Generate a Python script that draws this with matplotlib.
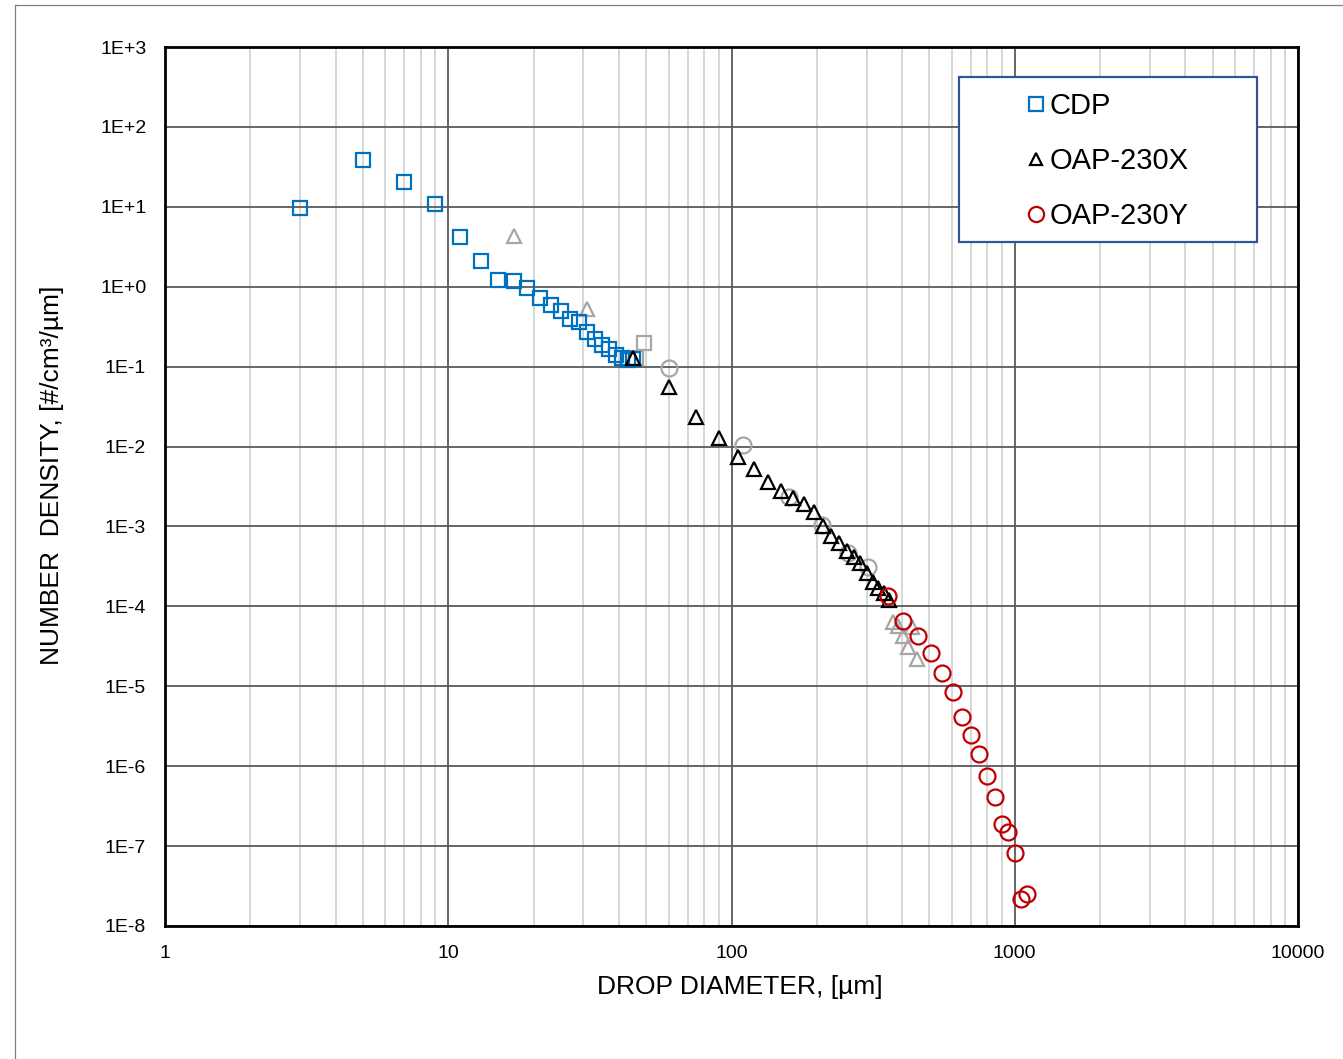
import numpy as np
import matplotlib
matplotlib.use("Agg")
import matplotlib.pyplot as plt
from matplotlib.patches import Rectangle
from matplotlib.lines import Line2D

plt.rcParams['font.family'] = ['Liberation Sans', 'DejaVu Sans']

# CDP drop size distribution (diameter in um, number density in #/cm3/um)
cdp_diam = [3, 5, 7, 9, 11, 13, 15, 17, 19, 21, 23, 25, 27, 29, 31, 33, 35, 37, 39, 41, 43, 45]
cdp_dens = [9.7, 38.5, 20.4, 10.8, 4.2, 2.1, 1.21, 1.19, 0.96, 0.72, 0.59, 0.50, 0.39, 0.36,
            0.27, 0.22, 0.186, 0.166, 0.14, 0.128, 0.121, 0.124]

# OAP-230X
oapx_diam = [45, 60, 75, 90, 105, 120, 135, 150, 165, 180, 195, 210, 225, 240, 255, 270,
             285, 300, 315, 330, 345, 360]
oapx_dens = [0.13, 0.055, 0.0236, 0.0127, 0.0075, 0.0052, 0.0036, 0.0028, 0.0023, 0.0019,
             0.0015, 0.00100, 0.00075, 0.00062, 0.00050, 0.00042, 0.00035, 0.00026,
             0.00020, 0.00017, 0.000145, 0.00012]

# OAP-230Y
oapy_diam = [358, 404, 454, 505, 555, 604, 651, 701, 750, 800, 851, 899, 949, 1002, 1050, 1102]
oapy_dens = [1.35e-4, 6.6e-5, 4.2e-5, 2.6e-5, 1.45e-5, 8.5e-6, 4.1e-6, 2.45e-6, 1.41e-6,
             7.5e-7, 4.1e-7, 1.9e-7, 1.5e-7, 8.1e-8, 2.2e-8, 2.5e-8]

# grey reference points (no legend entry)
grey_sq_diam = [46, 49]
grey_sq_dens = [0.13, 0.2]
grey_tri_diam = [17, 31, 373, 388, 404, 421, 433, 451]
grey_tri_dens = [4.3, 0.52, 6.4e-5, 5.6e-5, 4.2e-5, 3.1e-5, 5.5e-5, 2.2e-5]
grey_circ_diam = [60, 110, 159, 208, 258, 304]
grey_circ_dens = [0.097, 0.0104, 0.00236, 0.00104, 0.00047, 0.00031]

y_ticks = [1e3, 1e2, 1e1, 1e0, 1e-1, 1e-2, 1e-3, 1e-4, 1e-5, 1e-6, 1e-7, 1e-8]
y_tick_labels = ['1E+3', '1E+2', '1E+1', '1E+0', '1E-1', '1E-2', '1E-3', '1E-4',
                 '1E-5', '1E-6', '1E-7', '1E-8']
x_ticks = [1, 10, 100, 1000, 10000]
x_tick_labels = ['1', '10', '100', '1000', '10000']

BLUE = '#0070C0'
RED = '#C00000'
GREY = '#A6A6A6'

fig = plt.figure(figsize=(13.43, 10.59), dpi=100)
ax = fig.add_axes([165 / 1343, 1 - 926 / 1059, 1133 / 1343, 879 / 1059])

ax.set_xscale('log')
ax.set_yscale('log')
ax.set_xlim(1, 10000)
ax.set_ylim(1e-8, 1e3)

# grid: decade lines darker, minor vertical lines light
ax.set_xticks(x_ticks)
ax.set_xticklabels(x_tick_labels, fontsize=14)
ax.set_yticks(y_ticks)
ax.set_yticklabels(y_tick_labels, fontsize=14)
ax.xaxis.set_minor_locator(matplotlib.ticker.LogLocator(base=10, subs=np.arange(2, 10)))
ax.yaxis.set_minor_locator(matplotlib.ticker.NullLocator())
ax.xaxis.set_minor_formatter(matplotlib.ticker.NullFormatter())
ax.grid(True, which='major', color='#5a5a5a', linewidth=1.3)
ax.grid(True, which='minor', axis='x', color='#d0d0d0', linewidth=1.2)
ax.set_axisbelow(True)
ax.tick_params(which='both', length=0)
ax.tick_params(axis='x', pad=14)
ax.tick_params(axis='y', pad=13.5)
for sp in ax.spines.values():
    sp.set_linewidth(2)
    sp.set_color('black')

mk = dict(linestyle='none', markerfacecolor='none', markeredgewidth=1.6)
ax.plot(grey_sq_diam, grey_sq_dens, marker='s', markersize=10, markeredgecolor=GREY, **mk)
ax.plot(grey_tri_diam, grey_tri_dens, marker='^', markersize=9.5, markeredgecolor=GREY, **mk)
ax.plot(grey_circ_diam, grey_circ_dens, marker='o', markersize=11.5, markeredgecolor=GREY, **mk)
ax.plot(cdp_diam, cdp_dens, marker='s', markersize=10, markeredgecolor=BLUE, label='CDP', **mk)
ax.plot(oapx_diam, oapx_dens, marker='^', markersize=9.5, markeredgecolor='black', label='OAP-230X', **mk)
ax.plot(oapy_diam, oapy_dens, marker='o', markersize=11.5, markeredgecolor=RED, label='OAP-230Y', **mk)

# legend frame drawn by hand, entries placed inside it
ax.add_patch(Rectangle((0.7008, 0.778), 0.263, 0.1877, transform=ax.transAxes,
                       facecolor='white', edgecolor='#2F5597', linewidth=1.6, zorder=4))
ax.legend(loc='upper left', bbox_to_anchor=(0.7585, 0.9485), frameon=False, fontsize=21,
          handlelength=0.8, handletextpad=0.05, borderpad=0, borderaxespad=0,
          labelspacing=0.92, markerscale=0.95).set_zorder(5)

ax.set_xlabel('DROP DIAMETER, [µm]', fontsize=19)
ax.set_ylabel('NUMBER  DENSITY, [#/cm³/µm]', fontsize=19)
ax.xaxis.set_label_coords(0.5075, -0.0557)
ax.yaxis.set_label_coords(-0.0894, 0.513)

# thin outer frame of the original chart area
fig.add_artist(Line2D([15 / 1343, 15 / 1343], [0, 1 - 5 / 1059], color='#808080', linewidth=0.9))
fig.add_artist(Line2D([15 / 1343, 1], [1 - 5 / 1059, 1 - 5 / 1059], color='#808080', linewidth=0.9))

fig.savefig('out.png', dpi=100)
